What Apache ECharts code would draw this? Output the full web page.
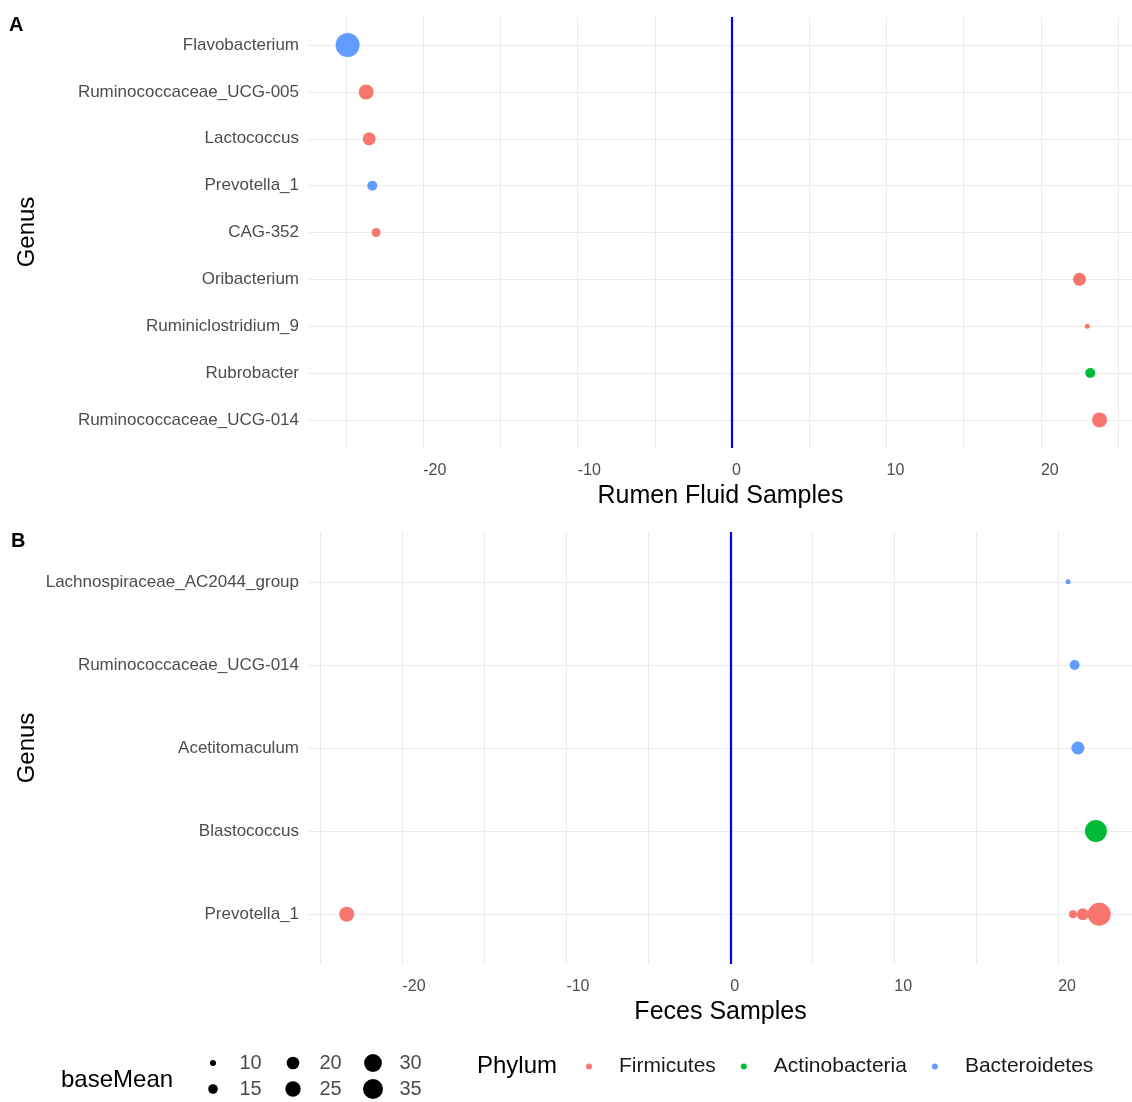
<!DOCTYPE html>
<html><head><meta charset="utf-8">
<script src="https://cdn.jsdelivr.net/npm/echarts@6/dist/echarts.min.js"></script>
<style>html,body{margin:0;padding:0;background:#fff}#c{width:1132px;height:1102px}</style>
</head><body><div id="c"></div>
<script>
// ---------- data ----------
const genusA = ['Flavobacterium','Ruminococcaceae_UCG-005','Lactococcus','Prevotella_1','CAG-352','Oribacterium','Ruminiclostridium_9','Rubrobacter','Ruminococcaceae_UCG-014'];
const pointGenusA = ['Flavobacterium','Ruminococcaceae_UCG-005','Lactococcus','Prevotella_1','CAG-352','Oribacterium','Ruminiclostridium_9','Rubrobacter','Ruminococcaceae_UCG-014'];
const lfcA = [-24.9,-23.7,-23.5,-23.3,-23.05,22.5,23.0,23.2,23.8];
const baseMeanA = [45,24.3,20.6,15.6,14,20.6,8.8,15.6,24.3];
const phylumA = ['Bacteroidetes','Firmicutes','Firmicutes','Bacteroidetes','Firmicutes','Firmicutes','Firmicutes','Actinobacteria','Firmicutes'];

const genusB = ['Lachnospiraceae_AC2044_group','Ruminococcaceae_UCG-014','Acetitomaculum','Blastococcus','Prevotella_1'];
const pointGenusB = ['Lachnospiraceae_AC2044_group','Ruminococcaceae_UCG-014','Acetitomaculum','Blastococcus','Prevotella_1','Prevotella_1','Prevotella_1','Prevotella_1'];
const lfcB = [20.6,21.0,21.2,22.3,-23.4,20.9,21.5,22.5];
const baseMeanB = [8.8,15.6,20.6,39.8,24.3,12.6,18.8,42.4];
const phylumB = ['Bacteroidetes','Bacteroidetes','Bacteroidetes','Actinobacteria','Firmicutes','Firmicutes','Firmicutes','Firmicutes'];

const phyla = ['Firmicutes','Actinobacteria','Bacteroidetes'];
const phylumColors = ['#F8766D','#00BA38','#619CFF'];
const xTickLabels = [-20,-10,0,10,20];
const xGridValues = [-25,-20,-15,-10,-5,0,5,10,15,20,25];
const sizeBreaks = [10,15,20,25,30,35];
const xTitles = ['Rumen Fluid Samples','Feces Samples'];

// ---------- helpers ----------
const FONT = '"Liberation Sans", Arial, sans-serif';
const GRID_COLOR = '#EBEBEB';
const sizeOf = bm => Math.max(2, 5.07 * Math.sqrt(bm) - 10);

const panels = [
  {genus: genusA, pg: pointGenusA, lfc: lfcA, bm: baseMeanA, ph: phylumA, top: 17, height: 431, min: -27.4, max: 25.9},
  {genus: genusB, pg: pointGenusB, lfc: lfcB, bm: baseMeanB, ph: phylumB, top: 532, height: 432, min: -25.7, max: 24.5}
];

const grids = [], xAxes = [], yAxes = [], series = [];
panels.forEach((p, k) => {
  grids.push({left: 309, right: 0, top: p.top, height: p.height});
  xAxes.push({
    type: 'value', gridIndex: k, min: p.min, max: p.max,
    axisLine: {show: false}, axisTick: {show: false}, splitLine: {show: false},
    axisLabel: {customValues: xTickLabels, formatter: v => xTickLabels.includes(v) ? String(v) : '',
      color: '#4D4D4D', fontSize: 16, margin: 15, align: 'left', fontFamily: FONT},
    name: xTitles[k], nameLocation: 'middle', nameGap: 36,
    nameTextStyle: {fontSize: 25, color: '#000', fontFamily: FONT}
  });
  const idx = p.genus.map((g, i) => i);
  yAxes.push({
    type: 'value', gridIndex: k, min: -0.6, max: p.genus.length - 0.4, inverse: true,
    axisLine: {show: false}, axisTick: {show: false}, splitLine: {show: false},
    axisLabel: {customValues: idx, formatter: v => (Number.isInteger(v) && p.genus[v]) ? p.genus[v] : '',
      color: '#4D4D4D', fontSize: 17, margin: 10, fontFamily: FONT}
  });
  // grid lines
  series.push({
    type: 'line', xAxisIndex: k, yAxisIndex: k, data: [], silent: true, z: 1,
    markLine: {
      z: 1, silent: true, symbol: ['none','none'], label: {show: false}, animation: false,
      lineStyle: {color: GRID_COLOR, width: 1, type: 'solid'},
      emphasis: {disabled: true},
      data: xGridValues.map(v => ({xAxis: v})).concat(idx.map(i => ({yAxis: i})))
    }
  });
  // blue zero line
  series.push({
    type: 'line', xAxisIndex: k, yAxisIndex: k, data: [], silent: true, z: 2,
    markLine: {
      z: 2, silent: true, symbol: ['none','none'], label: {show: false}, animation: false,
      lineStyle: {color: '#0000FF', width: 2.2, type: 'solid'},
      emphasis: {disabled: true},
      data: [{xAxis: 0}]
    }
  });
  phyla.forEach((ph, j) => {
    const data = [];
    p.lfc.forEach((x, i) => {
      if (p.ph[i] === ph) data.push([x, p.genus.indexOf(p.pg[i]), p.bm[i]]);
    });
    series.push({
      type: 'scatter', name: ph, xAxisIndex: k, yAxisIndex: k, z: 5,
      data, symbol: 'circle', symbolSize: v => sizeOf(v[2]),
      itemStyle: {color: phylumColors[j], opacity: 1},
      emphasis: {disabled: true}, animation: false
    });
  });
});

// size legend grid
grids.push({left: 173, width: 240, top: 1050, height: 56});
xAxes.push({type: 'value', gridIndex: 2, min: 0, max: 3, show: false});
yAxes.push({type: 'value', gridIndex: 2, min: 0, max: 2, inverse: true, show: false});
const sizeLegendPts = sizeBreaks.map((b, i) => [Math.floor(i / 2) + 0.5, (i % 2) + 0.5, b]);
series.push({
  type: 'scatter', xAxisIndex: 2, yAxisIndex: 2, silent: true, animation: false,
  data: sizeLegendPts, symbol: 'circle', symbolSize: v => sizeOf(v[2]),
  itemStyle: {color: '#000', opacity: 1}
});
series.push({
  type: 'scatter', xAxisIndex: 2, yAxisIndex: 2, silent: true, animation: false,
  data: sizeLegendPts, symbol: 'circle', symbolSize: 1,
  itemStyle: {color: 'rgba(0,0,0,0)'},
  label: {show: true, position: 'right', distance: 26, formatter: pt => String(pt.value[2]),
    fontSize: 20, color: '#1A1A1A', fontFamily: FONT}
});

const option = {
  backgroundColor: '#fff',
  animation: false,
  textStyle: {fontFamily: FONT},
  grid: grids, xAxis: xAxes, yAxis: yAxes, series,
  legend: {
    data: phyla, left: 581, top: 1051, icon: 'circle', itemWidth: 6, itemHeight: 6, itemGap: 25,
    selectedMode: false,
    textStyle: {fontSize: 21, color: '#1A1A1A', padding: [0, 0, 0, 22], fontFamily: FONT}
  },
  graphic: [
    {type: 'text', x: 9, y: 25, style: {text: 'A', font: 'bold 20px ' + FONT, fill: '#000', verticalAlign: 'middle'}},
    {type: 'text', x: 11, y: 541, style: {text: 'B', font: 'bold 20px ' + FONT, fill: '#000', verticalAlign: 'middle'}},
    {type: 'text', x: 27, y: 232, rotation: Math.PI / 2, style: {text: 'Genus', font: '24px ' + FONT, fill: '#000', align: 'center', verticalAlign: 'middle'}},
    {type: 'text', x: 27, y: 748, rotation: Math.PI / 2, style: {text: 'Genus', font: '24px ' + FONT, fill: '#000', align: 'center', verticalAlign: 'middle'}},
    {type: 'text', x: 61, y: 1080, style: {text: 'baseMean', font: '24px ' + FONT, fill: '#000', verticalAlign: 'middle'}},
    {type: 'text', x: 477, y: 1066, style: {text: 'Phylum', font: '24px ' + FONT, fill: '#000', verticalAlign: 'middle'}}
  ]
};
echarts.init(document.getElementById('c'), null, {renderer: 'canvas'}).setOption(option);
</script></body></html>
